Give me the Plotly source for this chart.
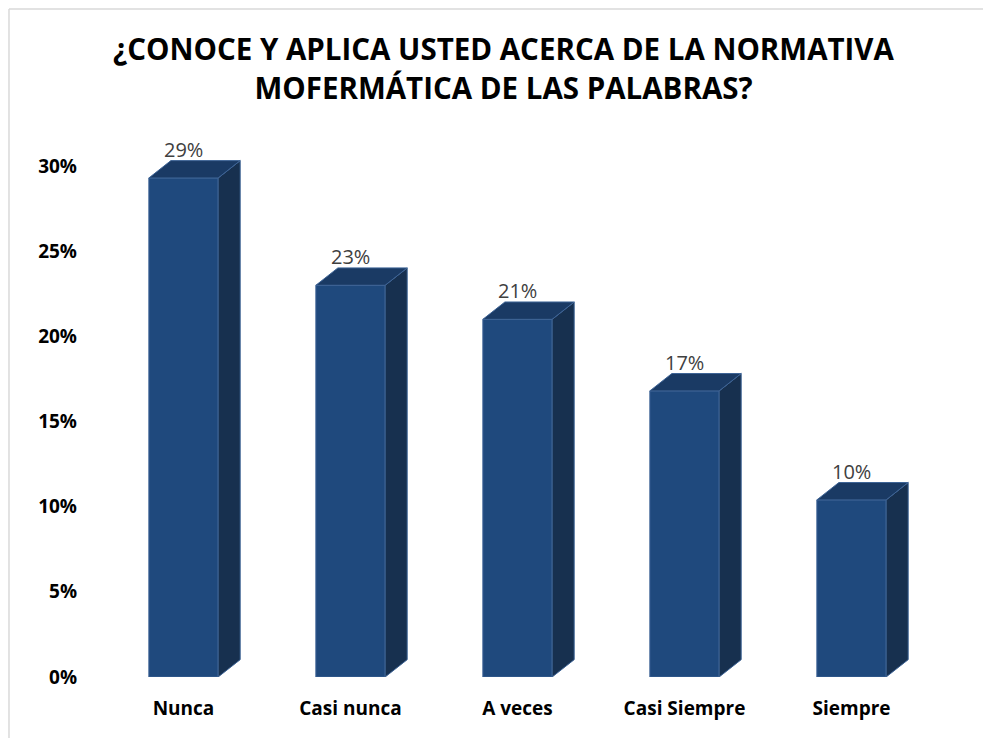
import plotly.graph_objects as go

# datos
categorias = ["Nunca", "Casi nunca", "A veces", "Casi Siempre", "Siempre"]
valores = [0.293, 0.230, 0.210, 0.168, 0.104]
titulo = "¿CONOCE Y APLICA USTED ACERCA DE LA NORMATIVA<br>MOFERMÁTICA DE LAS PALABRAS?"

# aspecto 3d
ancho = 0.415
dx = 0.132
dy = 0.0102

frente = "#1F497D"
lado = "#17304F"
techo = "#1A3A64"
borde = "#3E6496"

xs = list(range(len(categorias)))

# caras laterales y superiores
lx, ly, tx, ty = [], [], [], []
for i, v in zip(xs, valores):
    d = i + ancho / 2
    iz = i - ancho / 2
    lx += [d, d + dx, d + dx, d, d, None]
    ly += [0, dy, v + dy, v, 0, None]
    tx += [iz, iz + dx, d + dx, d, iz, None]
    ty += [v, v + dy, v + dy, v, v, None]

fig = go.Figure()
fig.add_trace(go.Scatter(x=lx, y=ly, fill="toself", fillcolor=lado, mode="lines",
                         line=dict(color=borde, width=1), hoverinfo="skip"))
fig.add_trace(go.Scatter(x=tx, y=ty, fill="toself", fillcolor=techo, mode="lines",
                         line=dict(color=borde, width=1), hoverinfo="skip"))
fig.add_trace(go.Bar(x=xs, y=valores, width=ancho, marker=dict(color=frente, line=dict(color=borde, width=1))))

# etiquetas de valor
for i, v in zip(xs, valores):
    fig.add_annotation(x=i, y=v + dy, text=f"{v:.0%}", showarrow=False, yanchor="bottom", yshift=-4,
                       font=dict(family="Open Sans", size=20, color="#404040"))

# borde del area del grafico (solo arriba e izquierda se ven)
marco = dict(color="#D9D9D9", width=1.5)
fig.add_shape(type="line", xref="paper", yref="paper", x0=-0.1090, x1=1.2, y0=1.2255, y1=1.2255, line=marco)
fig.add_shape(type="line", xref="paper", yref="paper", x0=-0.1090, x1=-0.1090, y0=-0.2, y1=1.2255, line=marco)

# la pagina tiene 8px de margen en body: se compensa en los margenes
fig.update_layout(
    width=991, height=738,
    showlegend=False,
    plot_bgcolor="white", paper_bgcolor="white",
    margin=dict(l=92, r=64, t=124, b=69, autoexpand=False),
    title=dict(text=titulo, x=0.5, xref="container", xanchor="center", y=0.929, yanchor="middle",
               font=dict(family="Open Sans", size=29.5, color="black", weight="bold")),
    xaxis=dict(range=[-0.5, 4.5], tickvals=xs, ticktext=categorias, showgrid=False, automargin=False,
               zeroline=False, showline=False, ticklabelstandoff=18,
               tickfont=dict(family="Open Sans", size=19, color="black", weight="bold")),
    yaxis=dict(range=[0, 0.32], tickvals=[0, 0.05, 0.10, 0.15, 0.20, 0.25, 0.30], tickformat=".0%",
               showgrid=False, zeroline=False, showline=False, ticklabelstandoff=22, automargin=False,
               tickfont=dict(family="Open Sans", size=19, color="black", weight="bold")),
)

fig.write_html("out.html")
